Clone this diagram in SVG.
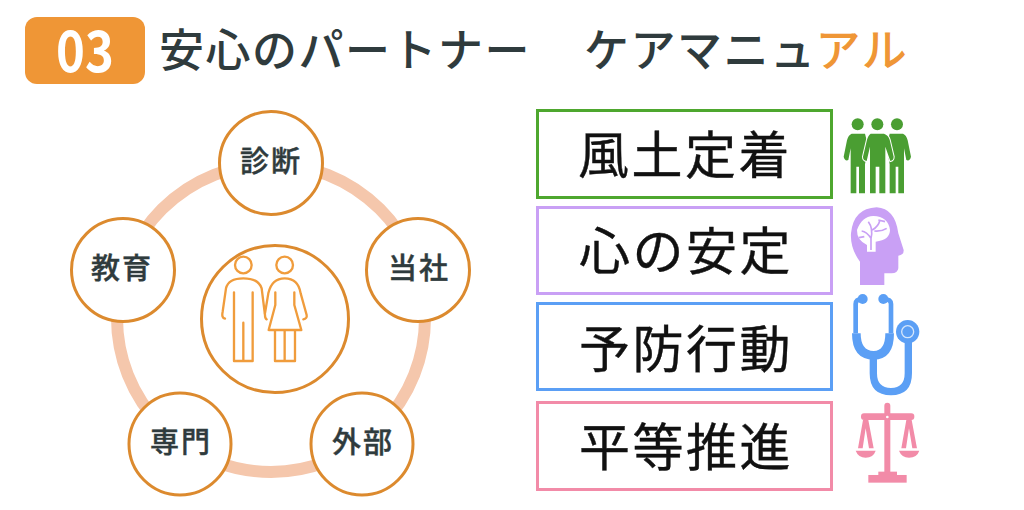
<svg xmlns="http://www.w3.org/2000/svg" width="1024" height="510" viewBox="0 0 1024 510">
<style>
text{font-family:"Noto Sans CJK JP","Noto Sans",sans-serif}
.t{font-size:45px;letter-spacing:1.500px;fill:#2f3b3d;font-weight:500}
.n{fill:#fff;stroke:#dc8a2e;stroke-width:3}
.nt{font-size:29px;letter-spacing:2px;fill:#2f3b3d;stroke:#2f3b3d;stroke-width:.4;font-weight:500;text-anchor:middle}
.b{fill:#fff;stroke-width:3}
.bt{font-size:51px;letter-spacing:2.500px;fill:#111;stroke:#111;stroke-width:.4;text-anchor:middle}
.line{fill:none;stroke:#f09c3c;stroke-width:7;stroke-linecap:round;stroke-linejoin:round}
</style>
<rect width="1024" height="510" fill="#fff"/>
<g id="header">
<rect x="25" y="17" width="120" height="67" rx="12" fill="#ef9636"/>
<text transform="translate(85 72) scale(.86 1)" font-size="57" font-weight="700" fill="#fff" text-anchor="middle">03</text>
<text class="t" x="159" y="67">安心のパートナー</text>
<text class="t" x="584" y="67">ケアマニュ<tspan fill="#ef9636">アル</tspan></text>
</g>
<g id="connectors">
<circle cx="271" cy="318" r="154" fill="none" stroke="#f5c7ac" stroke-width="12"/>
</g>
<g id="node-center">
<circle class="n" cx="275" cy="319" r="73.5"/>
<g transform="translate(190 230) scale(.3333)" class="line">
<circle cx="160" cy="105" r="25"/>
<path d="M105 266Q94 264 98 245L108 175Q115 145 160 145Q205 145 215 175L225 255Q225 266 230 268"/>
<path d="M132 187V393H188V187M160 278V393"/>
<circle cx="284" cy="105" r="25"/>
<path d="M225 250L235 190Q245 145 284 145Q325 145 332 190L350 255Q352 266 340 268"/>
<path d="M256 187V225L236 300H334L313 225V187M255 300V393H315V300M284 300V393"/>
</g>
</g>
<g id="node-shindan"><circle class="n" cx="271" cy="163" r="51.5"/><text class="nt" x="271" y="172">診断</text></g>
<g id="node-tosha"><circle class="n" cx="418" cy="270" r="51.5"/><text class="nt" x="419" y="279">当社</text></g>
<g id="node-gaibu"><circle class="n" cx="362" cy="444" r="51"/><text class="nt" x="363" y="453">外部</text></g>
<g id="node-senmon"><circle class="n" cx="180" cy="444" r="51"/><text class="nt" x="181" y="453">専門</text></g>
<g id="node-kyoiku"><circle class="n" cx="123" cy="270" r="51.5"/><text class="nt" x="122" y="279">教育</text></g>
<g id="box-fudo"><rect class="b" x="537.500" y="110.500" width="294" height="87" stroke="#4ea72e"/><text class="bt" x="685" y="174">風土定着</text></g>
<g id="box-kokoro"><rect class="b" x="537.500" y="207.500" width="294" height="86" stroke="#c9a0f5"/><text class="bt" x="686" y="270">心の安定</text></g>
<g id="box-yobo"><rect class="b" x="537.500" y="303.500" width="294" height="86" stroke="#5b9ff5"/><text class="bt" x="686" y="368">予防行動</text></g>
<g id="box-byodo"><rect class="b" x="537.500" y="402.500" width="294" height="87" stroke="#f28ba8"/><text class="bt" x="686" y="466">平等推進</text></g>
<g id="icon-people" transform="translate(835 105) scale(.3333)" fill="#4a9e32">
<circle cx="68" cy="58" r="18"/><circle cx="186" cy="58" r="18"/>
<path d="M50 86H90L100 125L90 178V265H72V185H64V265H47V130L40 165Q30 170 26 155L36 106Q40 90 50 86Z"/>
<path d="M204 86H164L154 125L164 178V265H182V185H190V265H207V130L214 165Q224 170 228 155L218 106Q214 90 204 86Z"/>
<circle cx="127" cy="58" r="18"/>
<path d="M107 86H147Q160 90 164 104L176 155Q176 166 166 168L151 125V265H133V185H122V265H105V125L95 168Q84 166 84 155L96 104Q100 90 107 86Z" stroke="#fff" stroke-width="6" paint-order="stroke"/>
</g>
<g id="icon-brain" transform="translate(835 105) scale(.3333)">
<path fill="#c9a0f5" d="M75 540V470Q45 430 48 385Q55 310 125 307Q180 310 190 385L206 435Q207 450 190 452V490Q188 505 170 505H148V540Z"/>
<path fill="#fff" d="M96 440V420Q65 405 66 375Q80 335 115 333Q160 335 165 375Q165 405 122 410V440Z"/>
<path fill="none" stroke="#c9a0f5" stroke-width="5" d="M108 435V400Q95 380 80 378M108 400Q115 370 100 350M112 375Q130 365 135 345M118 378Q140 380 155 370M88 395L72 398M130 345L150 350"/>
</g>
<g id="icon-stethoscope" transform="translate(835 290) scale(.3333)" fill="none" stroke="#5b9ff5">
<path stroke-width="14" d="M62 130V42Q62 27 83 27M168 130V42Q168 27 145 27"/>
<circle cx="83" cy="27" r="15" fill="#5b9ff5" stroke="none"/><circle cx="145" cy="27" r="15" fill="#5b9ff5" stroke="none"/>
<path stroke-width="26" d="M64 130Q64 196 116 196Q164 196 164 130"/>
<path stroke-width="22" d="M115 200V250Q115 305 168 305Q220 305 220 250V150"/>
<circle cx="218" cy="125" r="35" fill="#5b9ff5" stroke="none"/>
<circle cx="218" cy="125" r="18" stroke="#d5e6fb" stroke-width="4"/>
</g>
<g id="icon-scale" transform="translate(835 290) scale(.3333)" fill="#f28ba8">
<rect x="148" y="338" width="18" height="215" rx="9"/>
<rect x="78" y="370" width="160" height="20" rx="9"/>
<circle cx="157" cy="381" r="4" fill="#fff"/>
<rect x="130" y="545" width="56" height="15"/><rect x="100" y="555" width="115" height="23"/>
<path d="M84 390H100L116 475H102L92 415L83 475H69Z"/>
<path d="M214 390H230L246 475H232L222 415L213 475H199Z"/>
<path d="M62 482H122Q115 503 92 503Q70 503 62 482Z"/>
<path d="M192 482H253Q246 503 222 503Q200 503 192 482Z"/>
</g>
</svg>
